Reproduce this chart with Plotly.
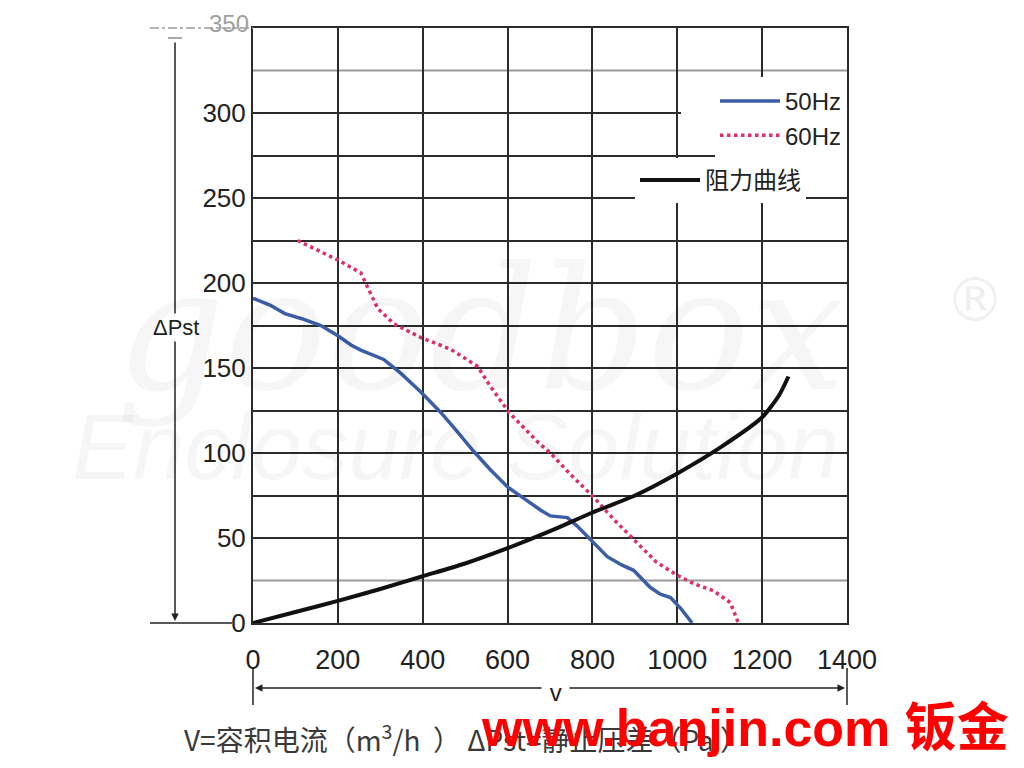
import plotly.graph_objects as go

# ---- data ----
flow_50hz = [0, 40, 75, 115, 160, 200, 231, 254, 308, 348, 395, 442, 480, 520, 560, 600, 640, 680, 701, 741, 764, 795, 835, 870, 897, 936, 960, 984, 1010, 1035]
pst_50hz = [191, 187, 182, 179, 175, 169, 163.5, 160.5, 155, 147, 136, 124, 113, 101, 90, 80, 73, 66, 63, 62, 57, 49, 39, 34, 31, 21, 17, 15, 8, 0]

flow_60hz = [105, 200, 254, 266, 294, 332, 395, 466, 529, 560, 603, 673, 701, 750, 803, 850, 897, 950, 1000, 1040, 1085, 1125, 1144]
pst_60hz = [225, 213.5, 206, 200, 185, 176, 168, 161, 151, 139, 124, 106, 100, 87, 74, 61, 49, 36, 28, 23, 19, 12, 0]

flow_res = [0, 100, 200, 300, 400, 500, 600, 700, 800, 900, 1000, 1100, 1200, 1240, 1262]
pst_res = [0, 6.5, 13, 20, 27.5, 35, 44, 54, 65, 75, 88, 103, 121, 134, 145]

x_tick_vals = [0, 200, 400, 600, 800, 1000, 1200, 1400]
x_tick_text = ["0", "200", "400", "600", "800", "1000", "1200", "1400"]
y_tick_vals = [0, 50, 75, 100, 125, 150, 175, 200, 225, 250, 275, 300, 350]
y_tick_text = ["0", "50", "", "100", "", "150", "", "200", "", "250", "", "300", ""]
light_grid_y = [25, 325]

series_names = ["50Hz", "60Hz", "阻力曲线"]

# ---- geometry helpers (page pixel -> paper) ----
OFF = 8  # default body margin of the html page
L, R, T, B = 253, 847, 28, 623
W, H = 1024, 768
def px(x):
    return (x - L) / (R - L)
def py(y):
    return (B - y) / (B - T)

fig = go.Figure()
fig.add_trace(go.Scatter(x=flow_50hz, y=pst_50hz, mode="lines", name=series_names[0],
                         line=dict(color="#3b5ea6", width=3.5), legend="legend"))
fig.add_trace(go.Scatter(x=flow_60hz, y=pst_60hz, mode="lines", name=series_names[1],
                         line=dict(color="#dc2f6c", width=3.5, dash="dot"), legend="legend"))
fig.add_trace(go.Scatter(x=flow_res, y=pst_res, mode="lines", name=series_names[2],
                         line=dict(color="#111111", width=4, shape="spline", smoothing=0.6),
                         legend="legend2"))

grid_col = "#2b2b2b"
fig.update_xaxes(range=[0, 1400], tickvals=x_tick_vals, ticktext=x_tick_text,
                 showgrid=True, gridcolor=grid_col, gridwidth=2,
                 showline=True, linecolor=grid_col, linewidth=2, mirror=True,
                 ticks="", ticklabelstandoff=12, zeroline=False,
                 tickfont=dict(family="Liberation Sans", size=27, color="#222"))
fig.update_yaxes(range=[0, 350], tickvals=y_tick_vals, ticktext=y_tick_text,
                 showgrid=True, gridcolor=grid_col, gridwidth=2,
                 showline=True, linecolor=grid_col, linewidth=2, mirror=True,
                 ticks="", ticklabelstandoff=0, zeroline=False,
                 tickfont=dict(family="Liberation Sans", size=26, color="#222"))

shapes = []
for yv in light_grid_y:
    shapes.append(dict(type="line", xref="paper", yref="y", x0=0, x1=1, y0=yv, y1=yv,
                       line=dict(color="#9a9a9a", width=2), layer="below"))
# white areas behind legend (hide grid lines)
shapes.append(dict(type="rect", xref="paper", yref="paper", x0=px(681), x1=px(845), y0=py(152), y1=py(77),
                   fillcolor="white", line=dict(width=0), layer="above"))
shapes.append(dict(type="rect", xref="paper", yref="paper", x0=px(597), x1=px(845), y0=py(196), y1=py(158),
                   fillcolor="white", line=dict(width=0), layer="above"))
# left dimension decorations
shapes.append(dict(type="line", xref="paper", yref="paper", x0=px(150), x1=px(232), y0=0, y1=0,
                   line=dict(color="#222", width=1.5)))
shapes.append(dict(type="line", xref="paper", yref="paper", x0=px(168), x1=px(182), y0=py(38), y1=py(38),
                   line=dict(color="#555", width=1)))
shapes.append(dict(type="line", xref="paper", yref="paper", x0=px(150), x1=px(253), y0=1, y1=1,
                   line=dict(color="#9a9a9a", width=1.5, dash="dashdot")))
# bottom dimension ticks
for xx in (253, 847):
    shapes.append(dict(type="line", xref="paper", yref="paper", x0=px(xx), x1=px(xx), y0=py(668), y1=py(705),
                       line=dict(color="#222", width=1.5)))
fig.update_layout(shapes=shapes)

ann = []
# vertical dimension arrow on the left
ann.append(dict(xref="paper", yref="paper", x=px(175), y=py(621), ax=0, ay=-580, text="",
                showarrow=True, arrowhead=2, arrowsize=1, arrowwidth=1.5, arrowcolor="#222"))
ann.append(dict(xref="paper", yref="paper", x=px(176), y=py(327), xanchor="center", yanchor="middle",
                text="ΔPst", showarrow=False,
                bgcolor="white", font=dict(family="Liberation Sans", size=22, color="#222")))
ann.append(dict(xref="paper", yref="paper", x=px(251), y=py(23), xanchor="right", yanchor="middle",
                text="350", showarrow=False,
                font=dict(family="Liberation Sans", size=24, color="#a0a0a0")))
# bottom dimension arrows
ann.append(dict(xref="paper", yref="paper", x=px(255), y=py(688), ax=290, ay=0, text="",
                showarrow=True, arrowhead=2, arrowsize=1, arrowwidth=1.5, arrowcolor="#222"))
ann.append(dict(xref="paper", yref="paper", x=px(845), y=py(688), ax=-280, ay=0, text="",
                showarrow=True, arrowhead=2, arrowsize=1, arrowwidth=1.5, arrowcolor="#222"))
ann.append(dict(xref="paper", yref="paper", x=px(555), y=py(692), xanchor="center", yanchor="middle",
                text=" v ", showarrow=False,
                bgcolor="white", font=dict(family="Liberation Sans", size=24, color="#222")))
# watermark
ann.append(dict(xref="paper", yref="paper", x=px(480), y=py(330), text="<i>goodbox</i>", showarrow=False,
                xanchor="center", yanchor="middle",
                font=dict(family="DejaVu Serif", size=170, color="rgba(0,0,0,0.035)")))
ann.append(dict(xref="paper", yref="paper", x=px(975), y=py(300), text="®", showarrow=False,
                xanchor="center", yanchor="middle",
                font=dict(family="DejaVu Sans", size=60, color="rgba(0,0,0,0.06)")))
ann.append(dict(xref="paper", yref="paper", x=px(455), y=py(447), text="<i>Enclosure Solution</i>", showarrow=False,
                xanchor="center", yanchor="middle",
                font=dict(family="Liberation Sans", size=92, color="rgba(0,0,0,0.035)")))
# captions
ann.append(dict(xref="paper", yref="paper", x=px(182), y=py(737), xanchor="left", yanchor="middle",
                text="V=容积电流（m<sup>3</sup>/h\u00a0\u00a0）\u00a0ΔPst=静止压差（Pa\u00a0）", showarrow=False,
                font=dict(family="Noto Sans CJK SC", size=28, color="#3a3a3a")))
ann.append(dict(xref="paper", yref="paper", x=px(1011), y=py(728), xanchor="right", yanchor="middle",
                text="<b>www.banjin.com 钣金</b>", showarrow=False,
                font=dict(family="Liberation Sans, Noto Sans CJK SC", size=52, color="#ff0000")))
fig.update_layout(annotations=ann)

fig.update_layout(
    width=W, height=H,
    margin=dict(l=L - OFF, r=W - (R - OFF), t=T - OFF, b=H - (B - OFF), autoexpand=False),
    paper_bgcolor="white", plot_bgcolor="white",
    showlegend=True,
    legend=dict(x=1, xanchor="right", y=py(79), yanchor="top", bgcolor="white",
                font=dict(family="Liberation Sans", size=24, color="#222"),
                itemwidth=60, tracegroupgap=0),
    legend2=dict(x=px(806), xanchor="right", y=py(158), yanchor="top", bgcolor="white",
                 font=dict(family="Noto Sans CJK SC", size=24, color="#222"),
                 itemwidth=60),
)

fig.write_html("out.html")
